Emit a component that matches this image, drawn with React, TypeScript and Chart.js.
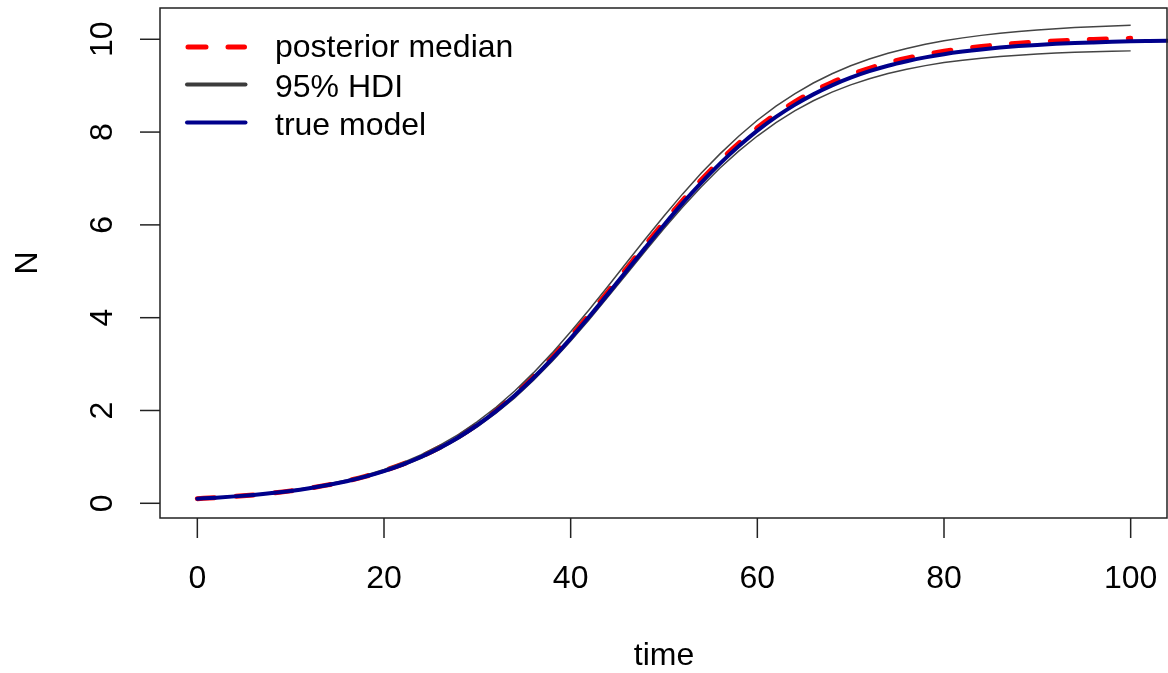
import React, { useEffect, useRef } from "react";
import { Chart, registerables } from "chart.js";

Chart.register(...registerables);

const timeMedian = [0,2,4,6,8,10,12,14,16,18,20,22,24,26,28,30,32,34,36,38,40,42,44,46,48,50,52,54,56,58,60,62,64,66,68,70,72,74,76,78,80,82,84,86,88,90,92,94,96,98,100];
const medianN = [0.10,0.122,0.149,0.181,0.220,0.268,0.326,0.396,0.480,0.581,0.701,0.843,1.011,1.208,1.437,1.703,2.005,2.347,2.728,3.145,3.595,4.070,4.563,5.066,5.568,6.059,6.530,6.972,7.383,7.755,8.093,8.390,8.650,8.876,9.070,9.235,9.375,9.493,9.590,9.673,9.742,9.798,9.845,9.884,9.916,9.942,9.964,9.982,9.997,10.010,10.020];
const hdiUpper = [0.105,0.128,0.156,0.190,0.231,0.281,0.341,0.414,0.500,0.605,0.730,0.877,1.050,1.252,1.486,1.760,2.070,2.420,2.810,3.236,3.695,4.178,4.678,5.188,5.695,6.190,6.668,7.116,7.530,7.910,8.255,8.560,8.825,9.058,9.258,9.428,9.575,9.700,9.802,9.892,9.968,10.030,10.084,10.130,10.168,10.200,10.228,10.252,10.270,10.287,10.300];
const hdiLower = [0.095,0.116,0.142,0.172,0.209,0.255,0.311,0.378,0.459,0.556,0.672,0.808,0.970,1.162,1.386,1.644,1.940,2.272,2.645,3.055,3.495,3.962,4.448,4.943,5.438,5.920,6.385,6.822,7.225,7.590,7.915,8.205,8.458,8.675,8.860,9.018,9.150,9.262,9.355,9.432,9.497,9.550,9.593,9.628,9.658,9.682,9.702,9.718,9.731,9.742,9.750];
const timeTrue = [0,2,4,6,8,10,12,14,16,18,20,22,24,26,28,30,32,34,36,38,40,42,44,46,48,50,52,54,56,58,60,62,64,66,68,70,72,74,76,78,80,82,84,86,88,90,92,94,96,98,100,102,104,106];
const trueN = [0.100,0.122,0.149,0.181,0.220,0.267,0.325,0.394,0.476,0.576,0.695,0.835,1.002,1.197,1.424,1.687,1.986,2.323,2.699,3.110,3.555,4.025,4.513,5.012,5.510,5.999,6.468,6.910,7.320,7.692,8.030,8.327,8.587,8.813,9.007,9.172,9.312,9.430,9.527,9.610,9.679,9.735,9.782,9.821,9.853,9.879,9.901,9.919,9.933,9.945,9.955,9.963,9.970,9.976];

const xTicks = [0, 20, 40, 60, 80, 100];
const yTicks = [0, 2, 4, 6, 8, 10];
const xTickLabels = ["0", "20", "40", "60", "80", "100"];
const yTickLabels = ["0", "2", "4", "6", "8", "10"];
const legendLabels = ["posterior median", "95% HDI", "true model"];

const FONT = '32px "Liberation Sans", Arial, sans-serif';

const pts = (xs: number[], ys: number[]) => xs.map((x, i) => ({ x, y: ys[i] }));

const axesPlugin = {
  id: "rAxes",
  afterDraw(chart: any) {
    const ctx = chart.ctx as CanvasRenderingContext2D;
    const area = chart.chartArea;
    const xs = chart.scales.x;
    const ys = chart.scales.y;
    ctx.save();
    // box
    ctx.strokeStyle = "#222";
    ctx.lineWidth = 1.5;
    ctx.strokeRect(area.left, area.top, area.right - 1 - area.left, area.bottom - area.top);
    ctx.fillStyle = "#000";
    ctx.font = FONT;
    // x ticks
    ctx.textAlign = "center";
    ctx.textBaseline = "alphabetic";
    xTicks.forEach((v, i) => {
      const px = xs.getPixelForValue(v);
      ctx.beginPath();
      ctx.moveTo(px, area.bottom);
      ctx.lineTo(px, area.bottom + 20);
      ctx.stroke();
      ctx.fillText(xTickLabels[i], px, area.bottom + 70);
    });
    // y ticks
    yTicks.forEach((v, i) => {
      const py = ys.getPixelForValue(v);
      ctx.beginPath();
      ctx.moveTo(area.left, py);
      ctx.lineTo(area.left - 20, py);
      ctx.stroke();
      ctx.save();
      ctx.translate(area.left - 48, py);
      ctx.rotate(-Math.PI / 2);
      ctx.fillText(yTickLabels[i], 0, 0);
      ctx.restore();
    });
    // axis titles
    ctx.fillText("time", (area.left + area.right) / 2, area.bottom + 147);
    ctx.save();
    ctx.translate(37, (area.top + area.bottom) / 2);
    ctx.rotate(-Math.PI / 2);
    ctx.fillText("N", 0, 0);
    ctx.restore();
    // legend
    const lx0 = 188, lx1 = 244.5;
    const rows = [47, 84.5, 122.5];
    ctx.lineCap = "round";
    // red dashed
    ctx.strokeStyle = "#ff0000";
    ctx.lineWidth = 5;
    ctx.setLineDash([18, 22]);
    ctx.beginPath();
    ctx.moveTo(lx0, rows[0]);
    ctx.lineTo(lx1, rows[0]);
    ctx.stroke();
    ctx.setLineDash([]);
    ctx.strokeStyle = "#3c3c3c";
    ctx.lineWidth = 4;
    ctx.beginPath();
    ctx.moveTo(lx0 - 1, rows[1]);
    ctx.lineTo(lx1 + 1, rows[1]);
    ctx.stroke();
    ctx.strokeStyle = "#00008b";
    ctx.lineWidth = 4;
    ctx.beginPath();
    ctx.moveTo(lx0 - 1, rows[2]);
    ctx.lineTo(lx1 + 1, rows[2]);
    ctx.stroke();
    ctx.textAlign = "left";
    ctx.fillStyle = "#000";
    const baselines = [57, 96.5, 135];
    legendLabels.forEach((t, i) => ctx.fillText(t, 275, baselines[i]));
    ctx.restore();
  },
};

export default function App() {
  const ref = useRef<HTMLCanvasElement | null>(null);
  useEffect(() => {
    document.body.style.margin = "0";
    const canvas = ref.current;
    if (!canvas) return;
    const chart = new Chart(canvas, {
      type: "scatter",
      data: {
        datasets: [
          {
            label: "true model",
            data: pts(timeTrue, trueN),
            showLine: true,
            borderColor: "#00008b",
            borderWidth: 4,
            pointRadius: 0,
            borderCapStyle: "round",
            borderJoinStyle: "round",
            cubicInterpolationMode: "monotone",
          },
          {
            label: "95% HDI upper",
            data: pts(timeMedian, hdiUpper),
            showLine: true,
            borderColor: "#444",
            borderWidth: 1.5,
            pointRadius: 0,
          },
          {
            label: "95% HDI lower",
            data: pts(timeMedian, hdiLower),
            showLine: true,
            borderColor: "#444",
            borderWidth: 1.5,
            pointRadius: 0,
          },
          {
            label: "posterior median",
            data: pts(timeMedian, medianN),
            showLine: true,
            borderColor: "#ff0000",
            borderWidth: 5,
            borderDash: [17, 22],
            borderCapStyle: "round",
            pointRadius: 0,
            cubicInterpolationMode: "monotone",
          },
        ],
      },
      options: {
        animation: false,
        responsive: false,
        devicePixelRatio: 1,
        layout: { padding: { left: 160, right: 0, top: 8, bottom: 155 } },
        plugins: { legend: { display: false }, tooltip: { enabled: false } },
        scales: {
          x: { type: "linear", min: -4, max: 104, display: false },
          y: { type: "linear", min: -0.317, max: 10.674, display: false },
        },
      },
      plugins: [axesPlugin],
    } as any);
    return () => chart.destroy();
  }, []);
  return (
    <div style={{ position: "absolute", left: 0, top: 0, width: 1168, height: 673, background: "#fff" }}>
      <canvas ref={ref} width={1168} height={673} style={{ display: "block" }} />
    </div>
  );
}
